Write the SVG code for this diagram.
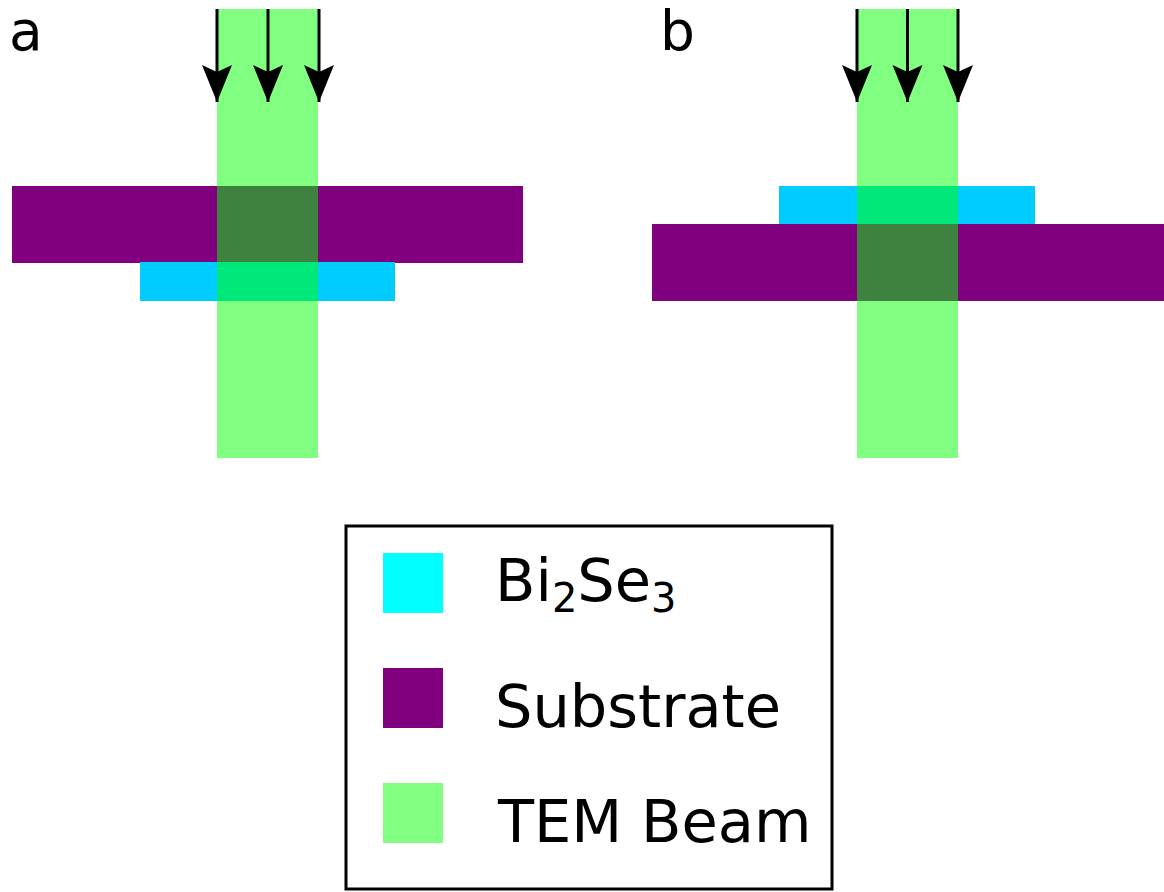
<svg xmlns="http://www.w3.org/2000/svg" width="1164" height="892" viewBox="0 0 1164 892">
<style>
.beam{fill:#80ff80}
.sub{fill:#800080}
.bi{fill:#00ccff}
.ovs{fill:#3f823f}
.ovb{fill:#00e87a}
.lbl{font-family:"DejaVu Sans","Verdana",sans-serif;fill:#000}
.arr{stroke:#000;stroke-width:3;fill:none}
</style>
<defs>
<marker id="arrow" markerUnits="userSpaceOnUse" markerWidth="44" markerHeight="36" viewBox="-42 -18 44 36" refX="0" refY="0" orient="auto">
<path d="M0,0 L-37,-15 L-30,0 L-37,15 Z" fill="#000"/>
</marker>
</defs>
<rect width="1164" height="892" fill="#fff"/>
<g id="panel-a">
<rect class="beam" x="217" y="9" width="101" height="449"/>
<rect class="sub" x="12" y="186" width="511" height="77"/>
<rect class="bi" x="140" y="262" width="255" height="39"/>
<rect class="ovs" x="217" y="186" width="101" height="76"/>
<rect class="ovb" x="217" y="262" width="101" height="39"/>
<text class="lbl" x="9" y="50" font-size="55">a</text>
</g>
<g id="panel-b">
<rect class="beam" x="857" y="9" width="101" height="449"/>
<rect class="sub" x="652" y="224" width="512" height="77"/>
<rect class="bi" x="779" y="186" width="256" height="38"/>
<rect class="ovs" x="857" y="224" width="101" height="77"/>
<rect class="ovb" x="857" y="186" width="101" height="38"/>
<text class="lbl" x="660" y="50" font-size="55">b</text>
</g>
<g id="connectors">
<line class="arr" x1="217" y1="9" x2="217" y2="102" marker-end="url(#arrow)"/>
<line class="arr" x1="268" y1="9" x2="268" y2="102" marker-end="url(#arrow)"/>
<line class="arr" x1="319" y1="9" x2="319" y2="102" marker-end="url(#arrow)"/>
<line class="arr" x1="857" y1="9" x2="857" y2="102" marker-end="url(#arrow)"/>
<line class="arr" x1="907.5" y1="9" x2="907.5" y2="102" marker-end="url(#arrow)"/>
<line class="arr" x1="958" y1="9" x2="958" y2="102" marker-end="url(#arrow)"/>
</g>
<g id="legend">
<rect x="346" y="526" width="486" height="363" fill="#fff" stroke="#000" stroke-width="3"/>
<rect x="383" y="553" width="60" height="60" fill="#00ffff"/>
<rect x="383" y="668" width="60" height="60" fill="#800080"/>
<rect x="383" y="783" width="60" height="60" fill="#80ff80"/>
<text class="lbl" x="495" y="601" font-size="59">Bi<tspan font-size="40" dy="11">2</tspan><tspan dy="-11">Se</tspan><tspan font-size="40" dy="11">3</tspan></text>
<text class="lbl" x="495" y="727" font-size="59">Substrate</text>
<text class="lbl" x="498" y="842" font-size="59">TEM Beam</text>
</g>
</svg>
